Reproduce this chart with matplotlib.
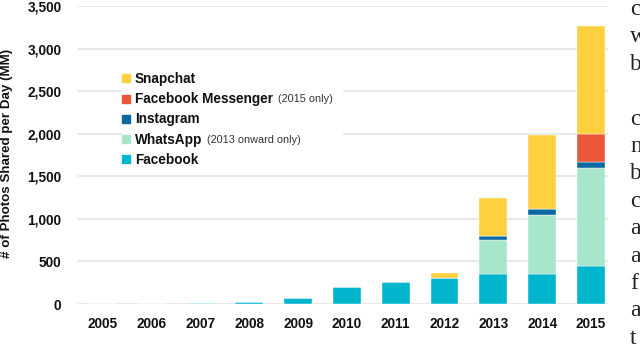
import matplotlib
matplotlib.use('Agg')
import matplotlib.pyplot as plt
from matplotlib.lines import Line2D
from matplotlib.patches import Rectangle
import numpy as np

years = ['2005', '2006', '2007', '2008', '2009', '2010', '2011', '2012', '2013', '2014', '2015']
facebook = [0, 4, 7, 20, 70, 200, 255, 300, 350, 350, 450]
whatsapp = [0, 0, 0, 0, 0, 0, 0, 0, 400, 700, 1145]
instagram = [0, 0, 0, 0, 0, 0, 0, 10, 50, 60, 75]
messenger = [0, 0, 0, 0, 0, 0, 0, 0, 0, 0, 330]
snapchat = [0, 0, 0, 0, 0, 0, 0, 50, 440, 880, 1260]

series_names = ['Facebook', 'WhatsApp', 'Instagram', 'Facebook Messenger', 'Snapchat']
series_notes = ['', '(2013 onward only)', '', '(2015 only)', '']
series_colors = ['#00B5CC', '#A8E6CC', '#0B67A0', '#EA573B', '#FDD03F']

yticks = [0, 500, 1000, 1500, 2000, 2500, 3000, 3500]
ytick_labels = ['0', '500', '1,000', '1,500', '2,000', '2,500', '3,000', '3,500']
ylabel = '# of Photos Shared per Day (MM)'

right_letters = ['c', 'w', 'b', '', 'c', 'n', 'b', 'c', 'a', 'a', 'f', 'a', 't']

plt.rcParams['font.family'] = ['Liberation Sans', 'DejaVu Sans']

fig = plt.figure(figsize=(6.4, 3.54), dpi=100)
ax = fig.add_axes([78/640, 1 - 304/354, 530/640, 298/354])

x = np.arange(len(years))
data = [facebook, whatsapp, instagram, messenger, snapchat]
bottom = np.zeros(len(years))
for vals, col in zip(data, series_colors):
    v = np.array(vals, dtype=float)
    ax.bar(x, v, width=0.57, bottom=bottom, color=col, edgecolor='white',
           linewidth=0.3, zorder=3)
    bottom += v

ax.set_xlim(-0.512, 10.35)
ax.set_ylim(0, 3500)
ax.set_yticks(yticks)
ax.set_yticklabels(ytick_labels)
ax.set_xticks(x)
ax.set_xticklabels(years)
ax.tick_params(axis='both', length=0, labelsize=9.8, colors='#111111')
ax.tick_params(axis='y', pad=12)
ax.tick_params(axis='x', pad=9)
for lab in ax.get_xticklabels() + ax.get_yticklabels():
    lab.set_fontweight('bold')
for s in ax.spines.values():
    s.set_visible(False)
ax.set_axisbelow(True)
ax.grid(axis='y', color='#e6e6e6', linewidth=1.3)
ax.grid(axis='x', visible=False)

ax.set_ylabel(ylabel, fontsize=9.6, fontweight='bold', color='#111111')
ax.yaxis.set_label_coords(-0.122, 0.505)

# legend background covering grid
ax.add_patch(Rectangle((44/530, (304-170)/298), (343-122)/530, (170-62)/298,
                       transform=ax.transAxes, facecolor='white', edgecolor='none',
                       zorder=1))

order = [4, 3, 2, 1, 0]
handles = [Line2D([], [], marker='s', linestyle='none', markersize=6,
                  color=series_colors[i]) for i in order]
labels = [series_names[i] for i in order]
leg = ax.legend(handles, labels, loc='upper left', bbox_to_anchor=(0.083, 0.778),
                frameon=False, prop={'weight': 'bold', 'size': 9.8},
                handlelength=0.6, handletextpad=0.35, labelspacing=0.45,
                borderpad=0, borderaxespad=0)
for t in leg.get_texts():
    t.set_color('#111111')

fig.canvas.draw()
renderer = fig.canvas.get_renderer()
for t, i in zip(leg.get_texts(), order):
    if series_notes[i]:
        bb = t.get_window_extent(renderer)
        fig.text((bb.x1 + 5) / 640, (bb.y0 + bb.y1) / 2 / 354, series_notes[i],
                 va='center', ha='left', fontsize=7.8, color='#333333')

for k, letter in enumerate(right_letters):
    if letter:
        fig.text(630/640, 1 - (15 + 27.4*k)/354, letter, fontsize=17,
                 family='Liberation Serif', va='baseline', ha='left', color='#222222')

fig.savefig('out.png', dpi=100)
